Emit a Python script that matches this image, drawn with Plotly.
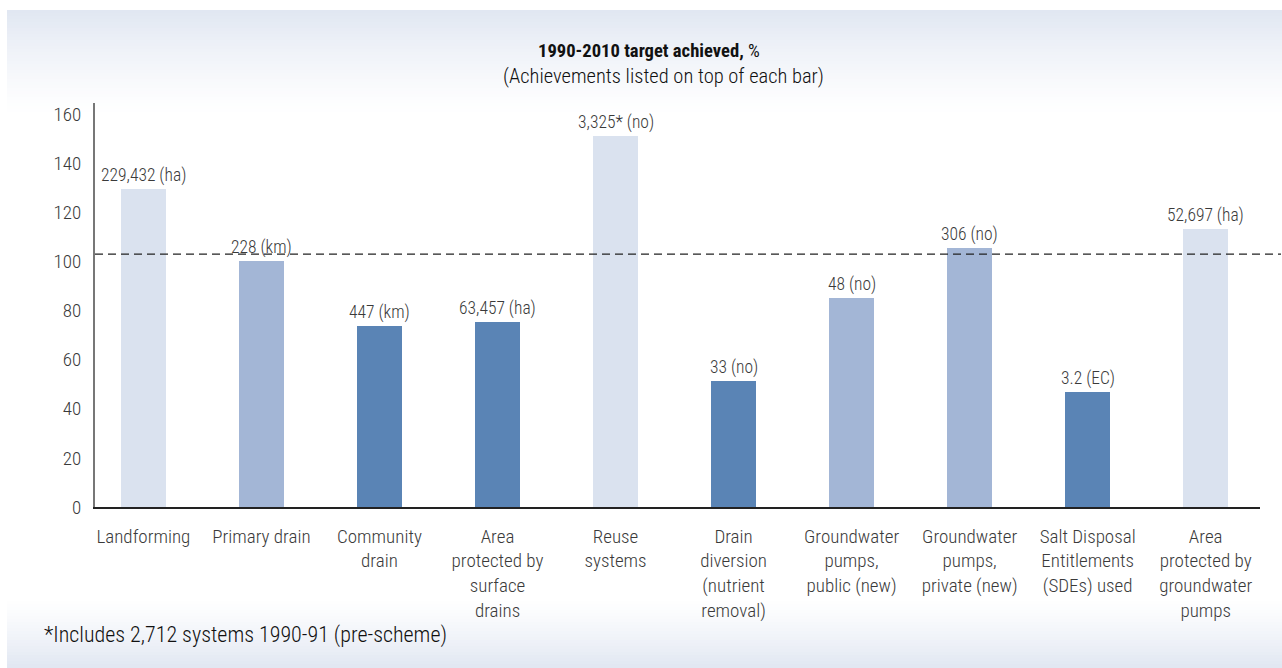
import plotly.graph_objects as go

# ---------------- data ----------------
categories = [
    "Landforming",
    "Primary drain",
    "Community<br>drain",
    "Area<br>protected by<br>surface<br>drains",
    "Reuse<br>systems",
    "Drain<br>diversion<br>(nutrient<br>removal)",
    "Groundwater<br>pumps,<br>public (new)",
    "Groundwater<br>pumps,<br>private (new)",
    "Salt Disposal<br>Entitlements<br>(SDEs) used",
    "Area<br>protected by<br>groundwater<br>pumps",
]
target_pct = [129.5, 100.3, 73.5, 75.5, 151, 51.4, 85, 105.3, 47, 113]
achievements = [
    "229,432 (ha)", "228 (km)", "447 (km)", "63,457 (ha)", "3,325* (no)",
    "33 (no)", "48 (no)", "306 (no)", "3.2 (EC)", "52,697 (ha)",
]
shade = ["light", "medium", "dark", "dark", "light", "dark", "medium", "medium", "dark", "light"]
reference_line = 103
y_ticks = [0, 20, 40, 60, 80, 100, 120, 140, 160]

# ---------------- style ----------------
palette = {"light": "#dae2ef", "medium": "#a3b6d6", "dark": "#5a84b5"}
FONT = "Liberation Sans Narrow, Roboto Condensed, Arial Narrow, Liberation Sans, sans-serif"
TXT = "#3a3a3a"
W, H = 1282, 668
L, R, T, B = 95, 22, 103, 161
PW, PH = W - L - R, H - T - B


def xp(px):
    return (px - L) / PW


def yp(py):
    return (H - B - py) / PH


x_idx = list(range(len(categories)))

fig = go.Figure()
fig.add_trace(go.Bar(
    x=x_idx, y=target_pct,
    marker=dict(color=[palette[s] for s in shade], line=dict(width=0)),
    width=0.38,
    hoverinfo="skip",
))

annotations = []
for i, (v, t) in enumerate(zip(target_pct, achievements)):
    annotations.append(dict(
        x=i, y=v, xref="x", yref="y", text=t, showarrow=False,
        yanchor="bottom", yshift=1,
        font=dict(family=FONT, size=17.5, color=TXT, weight=300),
    ))

annotations += [
    dict(x=xp(649), y=yp(51), xref="paper", yref="paper",
         text="<b>1990-2010 target achieved,</b> %", showarrow=False,
         xanchor="center", yanchor="middle",
         font=dict(family=FONT, size=18.6, color="#111111")),
    dict(x=xp(663), y=yp(76), xref="paper", yref="paper",
         text="(Achievements listed on top of each bar)", showarrow=False,
         xanchor="center", yanchor="middle",
         font=dict(family=FONT, size=20.5, color="#111111", weight=300)),
    dict(x=xp(42), y=yp(635), xref="paper", yref="paper",
         text="*Includes 2,712 systems 1990-91 (pre-scheme)", showarrow=False,
         xanchor="left", yanchor="middle",
         font=dict(family=FONT, size=22, color="#111111", weight=300)),
]

shapes = []
# background gradient bands
top_col = (225, 231, 242)


def mix(f):
    c = [round(255 + (tc - 255) * f) for tc in top_col]
    return "rgb(%d,%d,%d)" % tuple(c)


step = 3
py = 10
while py < 115:
    f = max(0.0, 1 - (py - 10) / 105) ** 1.3
    shapes.append(dict(type="rect", xref="paper", yref="paper", layer="below",
                       x0=xp(7), x1=xp(W), y0=yp(py + step), y1=yp(py),
                       fillcolor=mix(f), line=dict(width=0)))
    py += step
py = 595
while py < H:
    f = min(1.0, (py - 595) / 70) ** 1.3
    shapes.append(dict(type="rect", xref="paper", yref="paper", layer="below",
                       x0=xp(7), x1=xp(W), y0=yp(py + step), y1=yp(py),
                       fillcolor=mix(f), line=dict(width=0)))
    py += step

shapes.append(dict(type="line", xref="paper", yref="y",
                   x0=0, x1=xp(1281), y0=reference_line, y1=reference_line,
                   line=dict(color="#222222", width=1.3, dash="8px,5px"), layer="above"))

fig.update_layout(
    width=W, height=H,
    margin=dict(l=L, r=R, t=T, b=B, pad=0),
    paper_bgcolor="white", plot_bgcolor="rgba(0,0,0,0)",
    showlegend=False,
    bargap=0,
    annotations=annotations,
    shapes=shapes,
    font=dict(family=FONT, color=TXT),
)
fig.update_xaxes(
    range=[-0.41, 9.46],
    tickmode="array", tickvals=x_idx, ticktext=categories,
    showline=True, linecolor="#222222", linewidth=1.5,
    showgrid=False, zeroline=False,
    ticks="outside", ticklen=11, tickcolor="rgba(0,0,0,0)",
    tickfont=dict(family=FONT, size=19, color=TXT, weight=300),
    tickangle=0,
)
fig.update_yaxes(
    range=[0, 164.5],
    tickmode="array", tickvals=y_ticks,
    showline=True, linecolor="#777777", linewidth=2,
    showgrid=False, zeroline=False,
    ticks="outside", ticklen=8, tickcolor="rgba(0,0,0,0)",
    tickfont=dict(family=FONT, size=19, color=TXT, weight=300),
)

fig.write_html("out.html")
